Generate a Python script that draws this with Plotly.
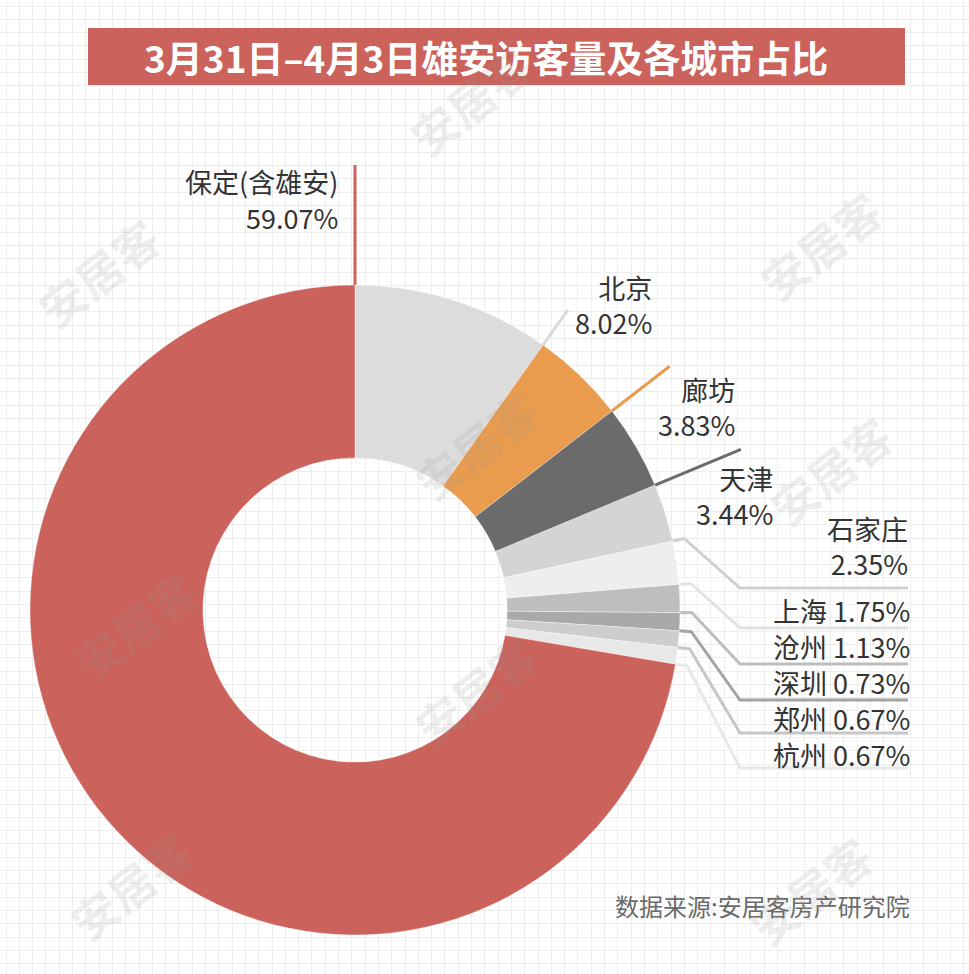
import math
import plotly.graph_objects as go

W, H = 969, 974

# ---------------- data ----------------
cities = ["北京", "廊坊", "天津", "石家庄", "上海", "沧州", "深圳", "郑州", "杭州", "保定(含雄安)"]
shares = [8.02, 3.83, 3.44, 2.35, 1.75, 1.13, 0.73, 0.67, 0.67, 59.07]
share_text = ["8.02%", "3.83%", "3.44%", "2.35%", "1.75%", "1.13%", "0.73%", "0.67%", "0.67%", "59.07%"]
title_text = "3月31日–4月3日雄安访客量及各城市占比"
source_text = "数据来源:安居客房产研究院"
watermark_text = "安居客"

# ---------------- style ----------------
slice_colors = ["#DCDCDC", "#E99C4E", "#6B6B6B", "#D4D4D4", "#EEEEEE",
                "#BEBEBE", "#A9A9A9", "#CDCDCD", "#E8E8E8", "#CB625B"]
line_colors = ["#DADADA", "#E99C4E", "#6B6B6B", "#D0D0D0", "#E2E2E2",
               "#BDBDBD", "#A4A4A4", "#C6C6C6", "#E8E8E8", "#CB625B"]
RED = "#CB625B"
FONT = "Noto Sans CJK SC"
TXT = "#333333"

CX, CY, R = 355, 610, 325
HOLE = 0.468

fig = go.Figure()

# donut
fig.add_trace(go.Pie(
    labels=cities, values=shares, sort=False, direction="clockwise", rotation=0,
    hole=HOLE, textinfo="none", hoverinfo="skip", showlegend=False,
    marker=dict(colors=slice_colors, line=dict(color="rgba(255,255,255,0.5)", width=0.8)),
    domain=dict(x=[(CX - R) / W, (CX + R) / W], y=[1 - (CY + R) / H, 1 - (CY - R) / H]),
))

# slice boundary angles (clockwise from 12 o'clock), derived from the data
total = sum(shares)
ends = []
c = 0.0
for v in shares:
    c += v
    ends.append(360.0 * c / total)


def pt(r, ang):
    a = math.radians(ang)
    return CX + r * math.sin(a), CY - r * math.cos(a)


def add_line(xs, ys, color):
    fig.add_trace(go.Scatter(x=xs, y=ys, mode="lines", hoverinfo="skip", showlegend=False,
                             line=dict(color=color, width=3)))


# radial leader lines (big slices)
radial_end = {0: 368, 1: 398, 2: 418, 9: 445}
for i, rend in radial_end.items():
    x0, y0 = pt(R * HOLE + 4, ends[i])
    x1, y1 = pt(rend, ends[i])
    add_line([x0, x1], [y0, y1], line_colors[i])

# elbow leader lines (small slices)
underline_y = {3: 588, 4: 628, 5: 664, 6: 700, 7: 733, 8: 768}
for i, yt in underline_y.items():
    x0, y0 = pt(R - 4, ends[i])
    x1, y1 = pt(R + 12, ends[i])
    add_line([x0, x1, 740, 908], [y0, y1, yt, yt], line_colors[i])

annotations = []


def label(x, y, text, size=27, color=TXT, anchor="right"):
    annotations.append(dict(x=x, y=y, xref="x", yref="y", text=text, showarrow=False,
                            xanchor=anchor, yanchor="middle", align="right",
                            font=dict(family=FONT, size=size, color=color)))


# Baoding label: two separate lines
label(340, 181, cities[9])
label(340, 217, share_text[9])

# other two-line labels (right edge x, centre y of the two-line block)
two_line = {0: (654, 305), 1: (737, 407), 2: (775, 496), 3: (910, 546)}
for i, (xr, yc) in two_line.items():
    label(xr, yc, cities[i] + "<br>" + share_text[i])

# one-line labels
one_line = {4: 610, 5: 646, 6: 682, 7: 718, 8: 754}
for i, y in one_line.items():
    label(912, y, cities[i] + " " + share_text[i])

# source
label(912, 905, source_text, size=24, color="#6A6A6A")

# title
annotations.append(dict(x=486, y=57, xref="x", yref="y", text=title_text, showarrow=False,
                        xanchor="center", yanchor="middle",
                        font=dict(family=FONT, size=37, color="white", weight="bold")))

# watermarks
for (wx, wy) in [(98, 272), (475, 445), (820, 245), (830, 470), (135, 625),
                 (475, 690), (130, 885), (810, 890), (470, 100)]:
    annotations.append(dict(x=wx, y=wy, xref="x", yref="y", text=watermark_text, showarrow=False,
                            textangle=-38, xanchor="center", yanchor="middle",
                            font=dict(family=FONT, size=46, color="rgba(150,150,150,0.16)",
                                      weight="bold")))

shapes = [dict(type="rect", xref="x", yref="y", x0=88, x1=905, y0=28, y1=85,
               fillcolor=RED, line=dict(width=0), layer="above")]

grid = dict(showgrid=True, gridcolor="#EDEDED", gridwidth=1, zeroline=False,
            showticklabels=False, ticks="", showline=False, dtick=13.3, tick0=6,
            fixedrange=True)

fig.update_layout(
    width=W, height=H, autosize=False,
    margin=dict(l=0, r=0, t=0, b=0, pad=0),
    paper_bgcolor="white", plot_bgcolor="white",
    xaxis=dict(range=[0, W], domain=[0, 1], **grid),
    yaxis=dict(range=[H, 0], domain=[0, 1], **grid),
    annotations=annotations, shapes=shapes,
    font=dict(family=FONT),
)

fig.write_html("out.html")
